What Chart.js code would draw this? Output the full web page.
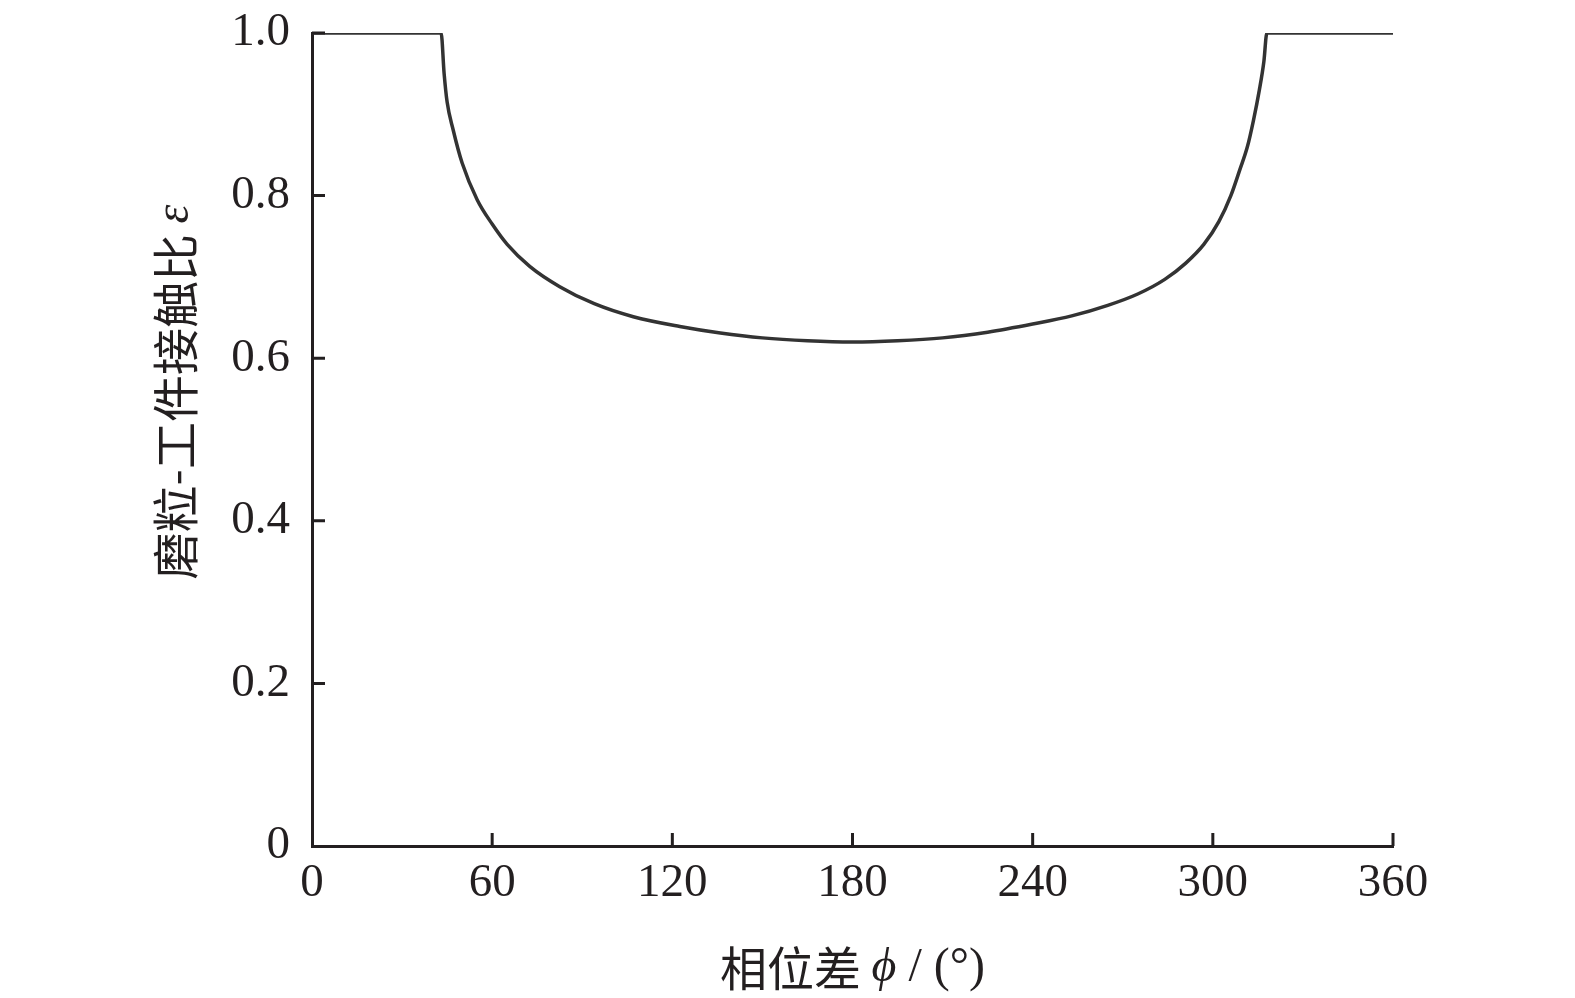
<!DOCTYPE html>
<html>
<head>
<meta charset="utf-8">
<script src="https://cdn.jsdelivr.net/npm/chart.js@4"></script>
<style>
  html, body { margin: 0; padding: 0; background: #fff; }
  #wrap { width: 1575px; height: 998px; }
</style>
</head>
<body>
<div id="wrap"><canvas id="ratioChart"></canvas></div>
<script>
// phase difference (deg) and grain-workpiece contact ratio
const phase = [0, 43, 44, 45, 47, 50, 55, 60, 65, 72.5, 82.5, 94, 107, 122.5, 136, 150, 165, 180,
  195, 210, 225, 240, 253, 265, 275, 284, 291, 297, 302, 306, 309, 311.5, 313.5, 315.5, 317, 318, 360];
const ratio = [1.0, 1.0, 0.95, 0.915, 0.881, 0.84, 0.795, 0.765, 0.740, 0.713, 0.688, 0.667, 0.651, 0.639, 0.631, 0.625, 0.6215, 0.620,
  0.6215, 0.625, 0.632, 0.642, 0.652, 0.665, 0.679, 0.697, 0.717, 0.740, 0.768, 0.800, 0.832, 0.860, 0.892, 0.930, 0.965, 1.0, 1.0];
const xTicks = [0, 60, 120, 180, 240, 300, 360];
const yTicks = [0, 0.2, 0.4, 0.6, 0.8, 1.0];

const axisColor = '#231f20';
const serif = '"Liberation Serif", "Times New Roman", serif';
const cjk = '"Noto Sans CJK SC", "Noto Sans CJK JP", sans-serif';

// inward tick marks and the two axis titles
const decor = {
  id: 'decor',
  afterDraw(chart) {
    const { ctx, chartArea, scales } = chart;
    ctx.save();
    ctx.strokeStyle = axisColor;
    ctx.lineWidth = 3;
    ctx.beginPath();
    xTicks.forEach(v => {
      if (v === 0) return;
      const px = scales.x.getPixelForValue(v);
      ctx.moveTo(px, chartArea.bottom);
      ctx.lineTo(px, chartArea.bottom - 13);
    });
    yTicks.forEach(v => {
      if (v === 0) return;
      const py = scales.y.getPixelForValue(v);
      ctx.moveTo(chartArea.left, py);
      ctx.lineTo(chartArea.left + 13, py);
    });
    ctx.stroke();

    ctx.fillStyle = '#231f20';
    ctx.textBaseline = 'middle';
    const drawParts = (parts, cx, cy) => {
      let total = 0;
      parts.forEach(p => { ctx.font = p.font; p.w = ctx.measureText(p.t).width; total += p.w; });
      let x = cx - total / 2;
      parts.forEach(p => { ctx.font = p.font; ctx.fillText(p.t, x, cy); x += p.w; });
    };

    drawParts([
      { t: '相位差 ', font: '47px ' + cjk },
      { t: 'ϕ', font: 'italic 48px ' + serif },
      { t: ' / (°)', font: '48px ' + serif }
    ], (chartArea.left + chartArea.right) / 2, 968);

    ctx.save();
    ctx.translate(175, 392);
    ctx.rotate(-Math.PI / 2);
    drawParts([
      { t: '磨粒-工件接触比 ', font: '47px ' + cjk },
      { t: 'ε', font: 'italic 48px ' + serif }
    ], 0, 0);
    ctx.restore();
    ctx.restore();
  }
};

new Chart(document.getElementById('ratioChart'), {
  type: 'line',
  plugins: [decor],
  data: {
    datasets: [{
      label: 'ε',
      data: phase.map((p, i) => ({ x: p, y: ratio[i] })),
      borderColor: '#333333',
      borderWidth: 3.5,
      pointRadius: 0,
      cubicInterpolationMode: 'monotone',
      fill: false
    }]
  },
  options: {
    responsive: true,
    maintainAspectRatio: false,
    animation: false,
    layout: { padding: { top: 33, right: 182, left: 0, bottom: 0 } },
    plugins: { legend: { display: false }, tooltip: { enabled: false } },
    scales: {
      x: {
        type: 'linear',
        min: 0,
        max: 360,
        afterBuildTicks: s => { s.ticks = xTicks.map(v => ({ value: v })); },
        afterFit: s => { s.height = 152; s.paddingLeft = 0; s.paddingRight = 0; },
        grid: { display: true, drawOnChartArea: false, drawTicks: false },
        border: { display: true, color: axisColor, width: 3 },
        ticks: { color: axisColor, padding: 9, font: { family: serif, size: 47 }, maxRotation: 0 }
      },
      y: {
        min: 0,
        max: 1,
        afterBuildTicks: s => { s.ticks = yTicks.map(v => ({ value: v })); },
        afterFit: s => { s.width = 312; s.paddingTop = 0; s.paddingBottom = 0; },
        grid: { display: true, drawOnChartArea: false, drawTicks: false },
        border: { display: true, color: axisColor, width: 3 },
        ticks: {
          color: axisColor,
          padding: 22,
          font: { family: serif, size: 47 },
          callback: v => (v === 0 ? '0' : v.toFixed(1))
        }
      }
    }
  }
});
</script>
</body>
</html>
